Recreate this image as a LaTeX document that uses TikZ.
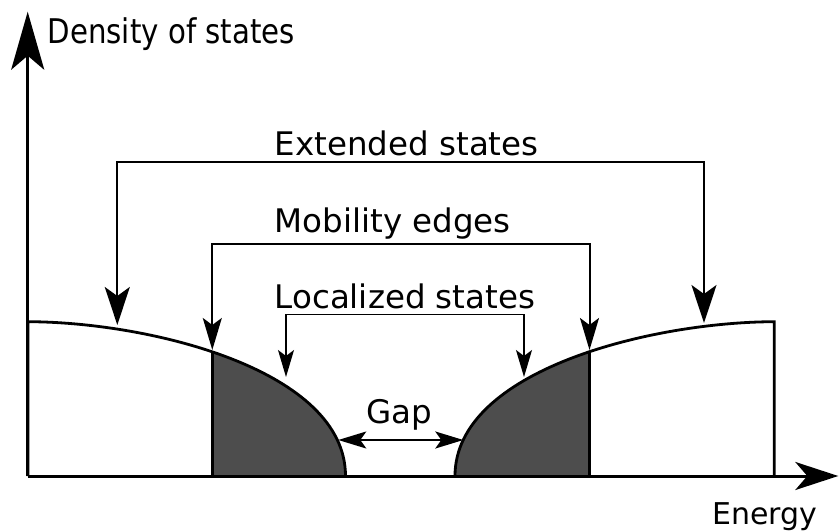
\documentclass[tikz,border=0pt]{standalone}
\usepackage{fontspec}
\setmainfont{DejaVu Sans}
\newfontfamily\narrowdv[FakeStretch=0.86]{DejaVu Sans}
\usetikzlibrary{arrows.meta}
\definecolor{bandfill}{HTML}{4D4D4D}
\begin{document}
\begin{tikzpicture}[x=1pt,y=-1pt,
  lbl/.style={inner sep=0pt, anchor=base west, font=\fontsize{32.5}{39}\selectfont},
  axlbl/.style={inner sep=0pt, anchor=base west, font=\fontsize{30}{36}\selectfont},
  ylbl/.style={inner sep=0pt, anchor=base west, font=\narrowdv\fontsize{34}{40}\selectfont},
  bandline/.style={line width=2.8pt, line join=miter},
  axisline/.style={line width=3pt},
  yarrow/.style={axisline, arrows={-Stealth[length=58pt,width=33pt,inset=14pt]}},
  xarrow/.style={axisline, arrows={-Stealth[length=43pt,width=28pt,inset=12pt]}},
  extarrow/.style={line width=2.2pt, arrows={Stealth[length=38pt,width=25pt,inset=9pt]-Stealth[length=38pt,width=25pt,inset=9pt]}},
  mobarrow/.style={line width=2pt, arrows={Stealth[length=32pt,width=19pt,inset=7pt]-Stealth[length=32pt,width=19pt,inset=7pt]}},
  locarrow/.style={line width=1.5pt, arrows={Stealth[length=27pt,width=16pt,inset=6pt]-Stealth[length=27pt,width=16pt,inset=6pt]}},
  gaparrow/.style={line width=2pt, arrows={Stealth[length=28pt,width=17pt,inset=6pt]-Stealth[length=28pt,width=17pt,inset=6pt]}}
]
\useasboundingbox (0,0) rectangle (839,532);

% key coordinates
\coordinate (origin) at (27.7,476);
\coordinate (ytip) at (27.7,11.7);
\coordinate (xtip) at (838.3,476);

% left band (dark part)
\begin{scope}
  \clip (212.3,0) rectangle (400,476);
  \fill[bandfill] (28,476) -- (28,321.7) .. controls (150,322) and (345.5,370) .. (345.5,476) -- cycle;
\end{scope}
% right band (dark part)
\begin{scope}
  \clip (400,0) rectangle (589.5,476);
  \fill[bandfill] (455,476) .. controls (455,370) and (652,322) .. (774.3,321.7) -- (774.3,476) -- cycle;
\end{scope}
% mobility edge verticals
\begin{scope}
  \clip (28,476) -- (28,321.7) .. controls (150,322) and (345.5,370) .. (345.5,476) -- cycle;
  \draw[bandline] (212.3,300) -- (212.3,476);
\end{scope}
\begin{scope}
  \clip (455,476) .. controls (455,370) and (652,322) .. (774.3,321.7) -- (774.3,476) -- cycle;
  \draw[bandline] (589.5,300) -- (589.5,476);
\end{scope}
% band outlines
\draw[bandline] (28,476) -- (28,321.7) .. controls (150,322) and (345.5,370) .. (345.5,476);
\draw[bandline] (455,476) .. controls (455,370) and (652,322) .. (774.3,321.7) -- (774.3,476);

% axes
\draw[yarrow] (origin) -- (ytip);
\draw[xarrow] (origin) -- (xtip);
\node[ylbl] (ylabel) at (47.5,43.3) {Density of states};
\node[axlbl] (xlabel) at (712,524) {Energy};

% Extended states
\node[lbl] (ext) at (274.5,155.7) {Extended states};
\coordinate (extL) at (117.3,325);
\coordinate (extR) at (704,323);
\coordinate (extTop) at (410,162.3);
\draw[extarrow] (extL) |- (extTop) -| (extR);

% Mobility edges
\node[lbl] (mob) at (274.5,232.3) {Mobility edges};
\coordinate (mobL) at (212.3,350);
\coordinate (mobR) at (589.5,350);
\coordinate (mobTop) at (400,244);
\draw[mobarrow] (mobL) |- (mobTop) -| (mobR);

% Localized states
\node[lbl] (loc) at (274.5,308.3) {Localized states};
\coordinate (locL) at (286,377);
\coordinate (locR) at (524,377);
\coordinate (locTop) at (405,314.3);
\draw[locarrow] (locL) |- (locTop) -| (locR);

% Gap
\node[lbl] (gap) at (366.5,423.3) {Gap};
\coordinate (gapL) at (338.3,440);
\coordinate (gapR) at (463.3,440);
\draw[gaparrow] (gapL) -- (gapR);
\end{tikzpicture}
\end{document}
